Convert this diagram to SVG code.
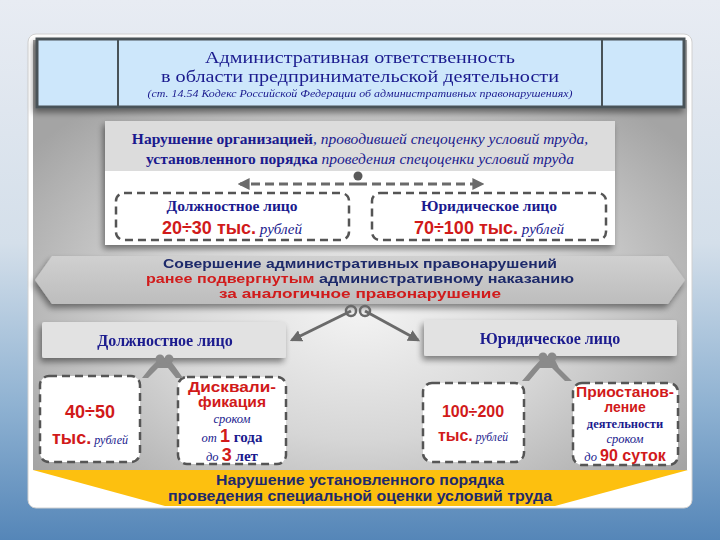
<svg xmlns="http://www.w3.org/2000/svg" width="720" height="540" viewBox="0 0 720 540">
<defs>
<linearGradient id="bg" x1="0" y1="0" x2="0" y2="1">
<stop offset="0" stop-color="#e8ecf3"/>
<stop offset="0.45" stop-color="#d4dfea"/>
<stop offset="0.75" stop-color="#8fb2d2"/>
<stop offset="1" stop-color="#5586b8"/>
</linearGradient>
<radialGradient id="gray" cx="0.5" cy="0.62" r="0.62">
<stop offset="0" stop-color="#f4f4f4"/>
<stop offset="0.5" stop-color="#d6d6d6"/>
<stop offset="1" stop-color="#a4a4a4"/>
</radialGradient>
<linearGradient id="band" x1="0" y1="0" x2="0" y2="1">
<stop offset="0" stop-color="#d0d0d0"/>
<stop offset="1" stop-color="#bdbdbd"/>
</linearGradient>
<filter id="sh" x="-10%" y="-20%" width="120%" height="150%">
<feGaussianBlur in="SourceAlpha" stdDeviation="3"/>
<feOffset dx="-2" dy="4"/>
<feComponentTransfer><feFuncA type="linear" slope="0.45"/></feComponentTransfer>
<feMerge><feMergeNode/><feMergeNode in="SourceGraphic"/></feMerge>
</filter>
<marker id="ah" viewBox="0 0 10 10" refX="8" refY="5" markerWidth="4" markerHeight="4" orient="auto">
<path d="M0,0 L10,5 L0,10 z" fill="#6a6a6a"/>
</marker>
<style>
.serif{font-family:"Liberation Serif","DejaVu Serif",serif}
.sans{font-family:"Liberation Sans","DejaVu Sans",sans-serif}
.blue{fill:#1a1a8e}
.dblue{fill:#1f2a6b}
.red{fill:#d11a1a}
.dash{fill:#fff;stroke:#555;stroke-width:2.5;stroke-dasharray:8 5}
.gbox{fill:#e2e2e2}
.conn{stroke:#6a6a6a;stroke-width:3;fill:none}
</style>
</defs>
<rect width="720" height="540" fill="url(#bg)"/>
<rect x="28" y="34" width="664" height="474" rx="8" fill="#fff" stroke="#d0d0d0"/>
<rect x="33" y="40" width="654" height="430" fill="url(#gray)"/>
<g id="header" filter="url(#sh)">
<rect x="37" y="39" width="647" height="68" fill="#cde7fb" stroke="#4a5258" stroke-width="3"/>
<line x1="118" y1="39" x2="118" y2="107" stroke="#4a5258" stroke-width="2"/>
<line x1="602" y1="39" x2="602" y2="107" stroke="#4a5258" stroke-width="2"/>
<text class="serif blue" x="360" y="63" font-size="17" text-anchor="middle" textLength="310" lengthAdjust="spacingAndGlyphs">Административная ответственность</text>
<text class="serif blue" x="360" y="82" font-size="17" text-anchor="middle" textLength="398" lengthAdjust="spacingAndGlyphs">в области предпринимательской деятельности</text>
<text class="serif blue" x="360" y="97" font-size="10" font-style="italic" text-anchor="middle" textLength="425" lengthAdjust="spacingAndGlyphs">(ст. 14.54 Кодекс Российской Федерации об административных правонарушениях)</text>
</g>
<g id="org">
<rect x="105" y="121" width="510" height="124" fill="#fff" filter="url(#sh)"/>
<rect x="105" y="121" width="510" height="50" fill="#dcdcdc"/>
<text class="serif blue" x="360" y="144" font-size="15.5" text-anchor="middle"><tspan font-weight="bold">Нарушение организацией</tspan><tspan font-style="italic">, проводившей спецоценку условий труда,</tspan></text>
<text class="serif blue" x="360" y="164" font-size="15.5" text-anchor="middle"><tspan font-weight="bold">установленного порядка</tspan><tspan font-style="italic"> проведения спецоценки условий труда</tspan></text>
</g>
<g id="org-dl">
<rect class="dash" x="116" y="193" width="233" height="47" rx="8"/>
<text class="serif blue" x="232" y="211" font-size="15.5" font-weight="bold" text-anchor="middle">Должностное лицо</text>
<text x="232" y="234" text-anchor="middle"><tspan class="sans red" font-size="18" font-weight="bold">20÷30 тыс.</tspan><tspan class="serif blue" font-size="15" font-style="italic"> рублей</tspan></text>
</g>
<g id="org-ul">
<rect class="dash" x="372" y="193" width="234" height="47" rx="8"/>
<text class="serif blue" x="489" y="211" font-size="15.5" font-weight="bold" text-anchor="middle">Юридическое лицо</text>
<text x="489" y="234" text-anchor="middle"><tspan class="sans red" font-size="18" font-weight="bold">70÷100 тыс.</tspan><tspan class="serif blue" font-size="15" font-style="italic"> рублей</tspan></text>
</g>
<g id="repeat" filter="url(#sh)">
<path d="M52,256 L668,256 L685,280 L668,304 L52,304 L35,280 Z" fill="url(#band)"/>
<text class="sans dblue" x="360" y="268" font-size="13" font-weight="bold" text-anchor="middle" textLength="394" lengthAdjust="spacingAndGlyphs">Совершение административных правонарушений</text>
<text class="sans" x="360" y="283" font-size="13" font-weight="bold" text-anchor="middle" textLength="428" lengthAdjust="spacingAndGlyphs"><tspan class="red">ранее подвергнутым</tspan><tspan class="dblue"> административному наказанию</tspan></text>
<text class="sans red" x="360" y="298" font-size="13" font-weight="bold" text-anchor="middle" textLength="282" lengthAdjust="spacingAndGlyphs">за аналогичное правонарушение</text>
</g>
<g id="dl" filter="url(#sh)">
<rect class="gbox" x="42" y="322" width="244" height="36" rx="2"/>
<text class="serif blue" x="165" y="346" font-size="16" font-weight="bold" text-anchor="middle">Должностное лицо</text>
</g>
<g id="ul" filter="url(#sh)">
<rect class="gbox" x="424" y="320" width="253" height="36" rx="2"/>
<text class="serif blue" x="550" y="344" font-size="16" font-weight="bold" text-anchor="middle">Юридическое лицо</text>
</g>
<g id="fine-dl">
<rect class="dash" x="40" y="376" width="100" height="86" rx="9"/>
<text class="sans red" x="90" y="418" font-size="18" font-weight="bold" text-anchor="middle">40÷50</text>
<text x="90" y="444" text-anchor="middle"><tspan class="sans red" font-size="18" font-weight="bold">тыс.</tspan><tspan class="serif blue" font-size="12" font-style="italic"> рублей</tspan></text>
</g>
<g id="disq">
<rect class="dash" x="178" y="377" width="108" height="87" rx="9"/>
<text class="sans red" x="232" y="392" font-size="14" font-weight="bold" text-anchor="middle" textLength="88" lengthAdjust="spacingAndGlyphs">Дисквали-</text>
<text class="sans red" x="232" y="407" font-size="14" font-weight="bold" text-anchor="middle" textLength="68" lengthAdjust="spacingAndGlyphs">фикация</text>
<text class="serif blue" x="232" y="423" font-size="12.5" font-style="italic" text-anchor="middle">сроком</text>
<text x="232" y="442" text-anchor="middle"><tspan class="serif blue" font-size="12.5" font-style="italic">от </tspan><tspan class="sans red" font-size="18" font-weight="bold">1</tspan><tspan class="serif blue" font-size="15" font-weight="bold"> года</tspan></text>
<text x="232" y="461" text-anchor="middle"><tspan class="serif blue" font-size="12.5" font-style="italic">до </tspan><tspan class="sans red" font-size="18" font-weight="bold">3</tspan><tspan class="serif blue" font-size="15" font-weight="bold"> лет</tspan></text>
</g>
<g id="fine-ul">
<rect class="dash" x="423" y="383" width="101" height="79" rx="9"/>
<text class="sans red" x="473" y="417" font-size="16" font-weight="bold" text-anchor="middle">100÷200</text>
<text x="473" y="441" text-anchor="middle"><tspan class="sans red" font-size="16" font-weight="bold">тыс.</tspan><tspan class="serif blue" font-size="11.5" font-style="italic"> рублей</tspan></text>
</g>
<g id="suspend">
<rect class="dash" x="573" y="383" width="105" height="82" rx="9"/>
<text class="sans red" x="625" y="397" font-size="14" font-weight="bold" text-anchor="middle" textLength="98" lengthAdjust="spacingAndGlyphs">Приостанов-</text>
<text class="sans red" x="625" y="412" font-size="14" font-weight="bold" text-anchor="middle">ление</text>
<text class="serif blue" x="625" y="428" font-size="12.5" font-weight="bold" text-anchor="middle">деятельности</text>
<text class="serif blue" x="625" y="443" font-size="12.5" font-style="italic" text-anchor="middle">сроком</text>
<text x="625" y="461" text-anchor="middle"><tspan class="serif blue" font-size="12.5" font-style="italic">до </tspan><tspan class="sans red" font-size="16" font-weight="bold">90 суток</tspan></text>
</g>
<g id="banner">
<path d="M33,470 L688,470 L555,506 L165,506 Z" fill="#fdc00f"/>
<text class="sans dblue" x="360" y="485" font-size="15" font-weight="bold" text-anchor="middle" textLength="288" lengthAdjust="spacingAndGlyphs">Нарушение установленного порядка</text>
<text class="sans dblue" x="360" y="501" font-size="15" font-weight="bold" text-anchor="middle" textLength="384" lengthAdjust="spacingAndGlyphs">проведения специальной оценки условий труда</text>
</g>
<g id="connectors">
<line class="conn" x1="358" y1="184" x2="240" y2="184" stroke-dasharray="9 5" marker-end="url(#ah)"/>
<line class="conn" x1="358" y1="184" x2="482" y2="184" stroke-dasharray="9 5" marker-end="url(#ah)"/>
<circle cx="358" cy="176" r="4.5" fill="#5a5a5a"/>
<line class="conn" x1="351" y1="311" x2="292" y2="340" marker-end="url(#ah)"/>
<line class="conn" x1="365" y1="311" x2="418" y2="340" marker-end="url(#ah)"/>
<circle cx="351" cy="311" r="5" fill="none" stroke="#6a6a6a" stroke-width="2.5"/>
<circle cx="365" cy="311" r="5" fill="none" stroke="#6a6a6a" stroke-width="2.5"/>
<path d="M158,360 L150,368 L142,378 L148,378 L158,368 L168,368 L176,378 L183,378 L176,368 L170,360 Z" fill="#8a8a8a"/>
<circle cx="160" cy="359" r="4.5" fill="#8a8a8a"/>
<circle cx="169" cy="359" r="4.5" fill="#8a8a8a"/>
<path d="M542,358 L533,368 L522,381 L529,381 L540,368 L552,368 L565,381 L572,381 L559,368 L554,358 Z" fill="#8a8a8a"/>
<circle cx="543" cy="357" r="4.5" fill="#8a8a8a"/>
<circle cx="552" cy="357" r="4.5" fill="#8a8a8a"/>
</g>
</svg>
